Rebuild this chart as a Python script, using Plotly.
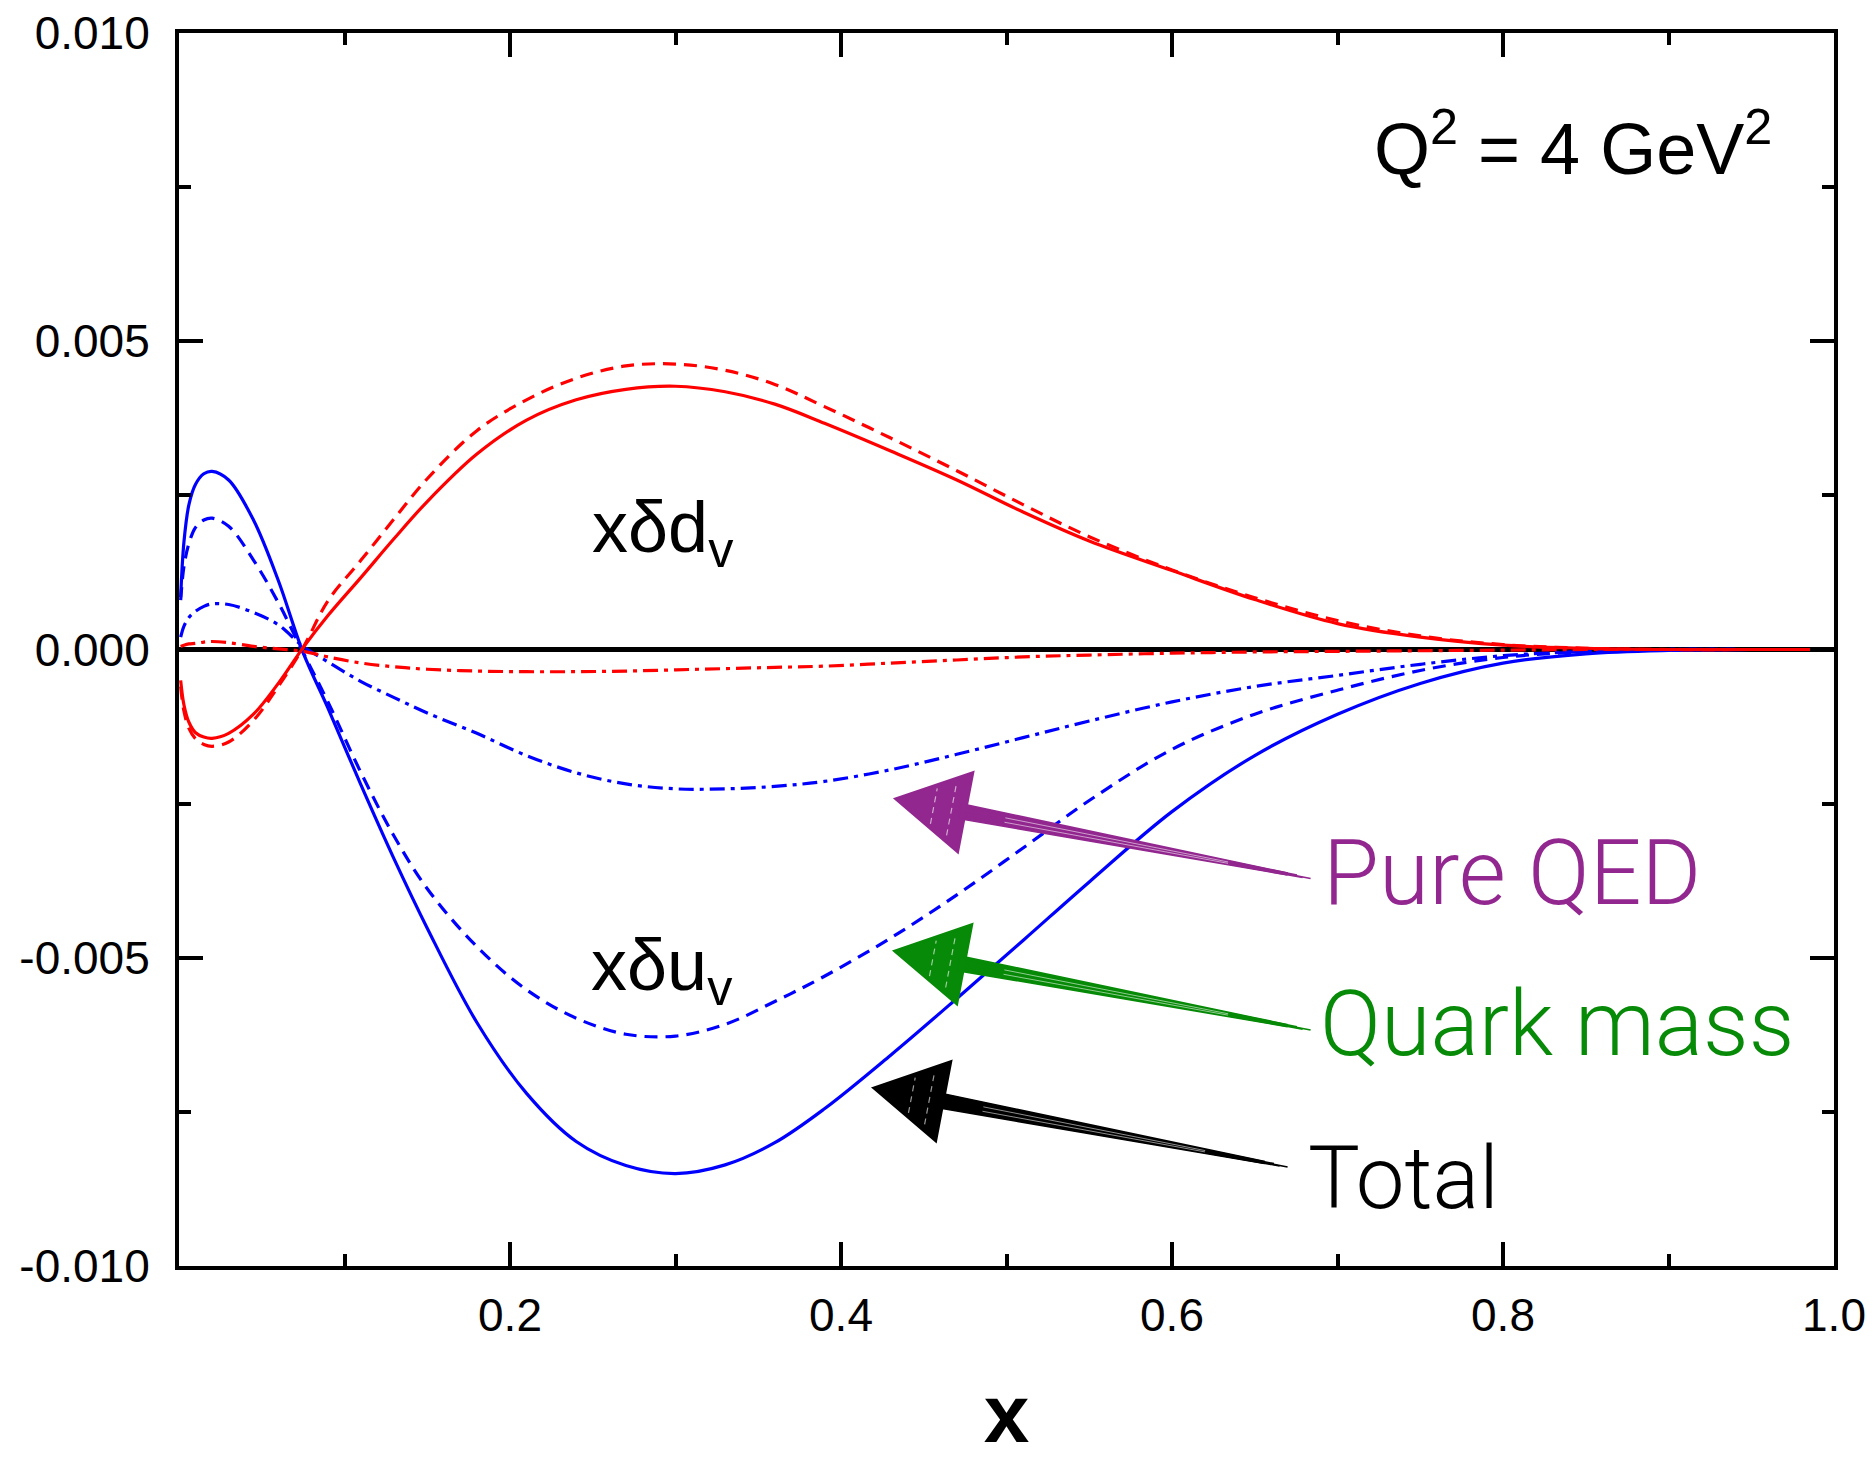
import numpy as np
import plotly.graph_objects as go

# ---- data (values in units of 1e-3) ----
x_pts = [0.001, 0.003, 0.006, 0.01, 0.015, 0.02, 0.03, 0.045, 0.06, 0.075, 0.09, 0.11, 0.13,
         0.15, 0.18, 0.21, 0.24, 0.27, 0.30, 0.33, 0.36, 0.39, 0.43, 0.47, 0.51, 0.55,
         0.60, 0.65, 0.70, 0.75, 0.80, 0.85, 0.90, 0.95, 1.0]

u_total = [0.85, 1.75, 2.35, 2.68, 2.85, 2.89, 2.75, 2.1, 1.12, -0.05, -0.95, -2.2, -3.4,
           -4.52, -6.05, -7.2, -7.98, -8.37, -8.50, -8.36, -8.00, -7.45, -6.58, -5.66, -4.72, -3.77,
           -2.63, -1.72, -1.05, -0.55, -0.22, -0.07, -0.015, 0.0, 0.0]
u_mass = [0.8, 1.35, 1.72, 1.98, 2.1, 2.13, 2.0, 1.45, 0.76, -0.05, -0.85, -2.0, -3.03,
          -3.88, -4.82, -5.52, -5.98, -6.24, -6.27, -6.08, -5.71, -5.30, -4.68, -3.98, -3.22, -2.45,
          -1.62, -1.05, -0.66, -0.34, -0.13, -0.035, 0.0, 0.0, 0.0]
u_qed = [0.2, 0.38, 0.52, 0.62, 0.7, 0.74, 0.73, 0.6, 0.4, 0.05, -0.2, -0.52, -0.78,
         -1.03, -1.36, -1.72, -2.0, -2.18, -2.26, -2.26, -2.22, -2.14, -1.95, -1.70, -1.43, -1.16,
         -0.85, -0.60, -0.42, -0.24, -0.10, -0.03, 0.0, 0.0, 0.0]
d_total = [-0.5, -0.9, -1.18, -1.35, -1.42, -1.44, -1.36, -1.05, -0.55, 0.03, 0.55, 1.17, 1.80,
           2.40, 3.17, 3.72, 4.05, 4.22, 4.27, 4.18, 3.98, 3.67, 3.22, 2.75, 2.23, 1.76,
           1.28, 0.81, 0.42, 0.20, 0.07, 0.02, 0.0, 0.0, 0.0]
d_mass = [-0.6, -1.0, -1.28, -1.45, -1.54, -1.57, -1.50, -1.15, -0.6, 0.03, 0.79, 1.45, 2.12,
          2.77, 3.55, 4.05, 4.40, 4.60, 4.63, 4.53, 4.30, 3.94, 3.43, 2.90, 2.35, 1.83,
          1.29, 0.84, 0.47, 0.22, 0.08, 0.02, 0.0, 0.0, 0.0]
d_qed = [0.05, 0.07, 0.09, 0.1, 0.12, 0.13, 0.11, 0.05, 0.01, -0.03, -0.12, -0.22, -0.28,
         -0.32, -0.35, -0.36, -0.36, -0.35, -0.33, -0.31, -0.29, -0.27, -0.22, -0.17, -0.12, -0.09,
         -0.06, -0.04, -0.03, -0.02, -0.01, 0.0, 0.0, 0.0, 0.0]

x_ticks = [0.2, 0.4, 0.6, 0.8, 1.0]
x_tick_text = ["0.2", "0.4", "0.6", "0.8", "1.0"]
y_ticks = [-0.010, -0.005, 0.0, 0.005, 0.010]
y_tick_text = ["-0.010", "-0.005", "0.000", "0.005", "0.010"]

SCALE = 1e-3
BLUE, RED = "#0000FF", "#FF0000"
PURPLE, GREEN, BLACK = "#92278F", "#078A07", "#000000"

# ---- figure geometry ----
W, H = 1873, 1459
ML, MR, MT, MB = 179, 39, 33, 193
PW, PH = W - ML - MR, H - MT - MB
XR = (0.0, 1.0)
YR = (-0.010, 0.010)


def px_to_data(px, py):
    x = XR[0] + (px - ML) / PW * (XR[1] - XR[0])
    y = YR[1] - (py - MT) / PH * (YR[1] - YR[0])
    return x, y


def data_to_px(x, y):
    px = ML + (x - XR[0]) / (XR[1] - XR[0]) * PW
    py = MT + (YR[1] - y) / (YR[1] - YR[0]) * PH
    return px, py


fig = go.Figure()

DASH = "13px,8px"
DASHDOT = "15px,6px,4px,6px"
series = [
    (u_qed, BLUE, DASHDOT), (u_mass, BLUE, DASH), (u_total, BLUE, "solid"),
    (d_qed, RED, DASHDOT), (d_mass, RED, DASH), (d_total, RED, "solid"),
]
for vals, col, dash in series:
    fig.add_trace(go.Scatter(
        x=x_pts, y=[v * SCALE for v in vals], mode="lines",
        line=dict(color=col, width=3.2, dash=dash, shape="spline", smoothing=1.0),
        showlegend=False, hoverinfo="skip"))


# ---- sketched arrows ----
def arrow_shapes(tip, tail, color):
    tx, ty = data_to_px(*tip)
    ex, ey = data_to_px(*tail)
    d = np.array([ex - tx, ey - ty])
    length = np.hypot(*d)
    u = d / length
    n = np.array([-u[1], u[0]])
    tip_p = np.array([tx, ty])
    head_len, head_half = 72, 41
    base = tip_p + u * head_len
    c1 = base + n * head_half
    c2 = base - n * head_half
    tail_p = np.array([ex, ey])
    w0, w1 = 7.5, 1.0
    s1 = base - u * 6 + n * w0
    s2 = tail_p + n * w1
    s3 = tail_p - n * w1
    s4 = base - u * 6 - n * w0

    def path(points):
        pts = [px_to_data(*p) for p in points]
        return "M " + " L ".join(f"{a:.6f},{b:.7f}" for a, b in pts) + " Z"

    shapes = [
        dict(type="path", path=path([tip_p, c1, c2]), xref="x", yref="y",
             fillcolor=color, line=dict(color=color, width=2)),
        dict(type="path", path=path([s1, s2, s3, s4]), xref="x", yref="y",
             fillcolor=color, line=dict(color=color, width=1.5)),
    ]
    # a few loose strokes for the hand-drawn look
    for off, extra in [(-4.5, 10), (0.0, 24), (4.0, 16)]:
        a = base + n * off
        b = tail_p + n * (off * 0.15) + u * extra
        (ax_, ay_), (bx_, by_) = px_to_data(*a), px_to_data(*b)
        shapes.append(dict(type="line", x0=ax_, y0=ay_, x1=bx_, y1=by_, xref="x", yref="y",
                           line=dict(color=color, width=1.6)))
    for off in [-2.0, 2.5]:
        a = base + n * off + u * 40
        b = tail_p - u * 60 + n * (off * 0.3)
        (ax_, ay_), (bx_, by_) = px_to_data(*a), px_to_data(*b)
        shapes.append(dict(type="line", x0=ax_, y0=ay_, x1=bx_, y1=by_, xref="x", yref="y",
                           line=dict(color="white", width=1.0), opacity=0.55))
    for k in [0.55, 0.8]:
        p = tip_p + u * head_len * k
        h = head_half * k * 0.8
        a, b = p + n * h, p - n * h
        (ax_, ay_), (bx_, by_) = px_to_data(*a), px_to_data(*b)
        shapes.append(dict(type="line", x0=ax_, y0=ay_, x1=bx_, y1=by_, xref="x", yref="y",
                           line=dict(color="white", width=1.2, dash="6px,5px"), opacity=0.6))
    return shapes


arrows = [
    ((0.4326, -0.00242), (0.6695, -0.00364), PURPLE),
    ((0.4320, -0.00489), (0.6695, -0.00610), GREEN),
    ((0.4193, -0.00711), (0.6556, -0.00832), BLACK),
]
shapes = []
for tip, tail, col in arrows:
    shapes += arrow_shapes(tip, tail, col)

SANS = "Arial, Liberation Sans, Helvetica, sans-serif"
LIGHT = "Roboto, Helvetica Neue, Arial, sans-serif"

annotations = [
    dict(text="Q<sup>2</sup> = 4 GeV<sup>2</sup>", xref="paper", yref="paper",
         x=0.9640, y=0.910, xanchor="right", yanchor="middle", showarrow=False,
         font=dict(family=SANS, size=72, color="black")),
    dict(text="xδd<sub>v</sub>", xref="x", yref="y", x=0.2483, y=0.00189,
         xanchor="left", yanchor="middle", showarrow=False,
         font=dict(family=SANS, size=72, color="black")),
    dict(text="xδu<sub>v</sub>", xref="x", yref="y", x=0.2477, y=-0.0052,
         xanchor="left", yanchor="middle", showarrow=False,
         font=dict(family=SANS, size=72, color="black")),
    dict(text="Pure QED", xref="x", yref="y", x=0.6900, y=-0.003625,
         xanchor="left", yanchor="middle", showarrow=False,
         font=dict(family=LIGHT, size=91, color=PURPLE, weight=300)),
    dict(text="Quark mass", xref="x", yref="y", x=0.6880, y=-0.00609,
         xanchor="left", yanchor="middle", showarrow=False,
         font=dict(family=LIGHT, size=90, color=GREEN, weight=300)),
    dict(text="Total", xref="x", yref="y", x=0.6810, y=-0.00858,
         xanchor="left", yanchor="middle", showarrow=False,
         font=dict(family=LIGHT, size=87, color=BLACK, weight=300)),
]

axis_common = dict(
    showline=True, linecolor="black", linewidth=4, mirror="allticks",
    ticks="inside", ticklen=24, tickwidth=3.5, tickcolor="black",
    showgrid=False, automargin=False,
    tickfont=dict(family=SANS, size=46, color="black"),
)

fig.update_layout(
    width=W, height=H, autosize=False,
    margin=dict(l=ML, r=MR, t=MT, b=MB, pad=0),
    paper_bgcolor="white", plot_bgcolor="white",
    xaxis=dict(range=list(XR), tickmode="array", tickvals=x_ticks, ticktext=x_tick_text,
               minor=dict(tickmode="array", tickvals=[0.1, 0.3, 0.5, 0.7, 0.9],
                          ticks="inside", ticklen=12, tickwidth=3.5, tickcolor="black"),
               zeroline=False, ticklabelstandoff=6,
               title=dict(text="x", font=dict(family=SANS, size=82, color="black", weight="bold"),
                          standoff=62),
               **axis_common),
    yaxis=dict(range=list(YR), tickmode="array", tickvals=y_ticks, ticktext=y_tick_text,
               minor=dict(tickmode="array", tickvals=[-0.0075, -0.0025, 0.0025, 0.0075],
                          ticks="inside", ticklen=12, tickwidth=3.5, tickcolor="black"),
               zeroline=True, zerolinecolor="black", zerolinewidth=5, ticklabelstandoff=16,
               **axis_common),
    shapes=shapes,
    annotations=annotations,
)

fig.write_html("out.html")
